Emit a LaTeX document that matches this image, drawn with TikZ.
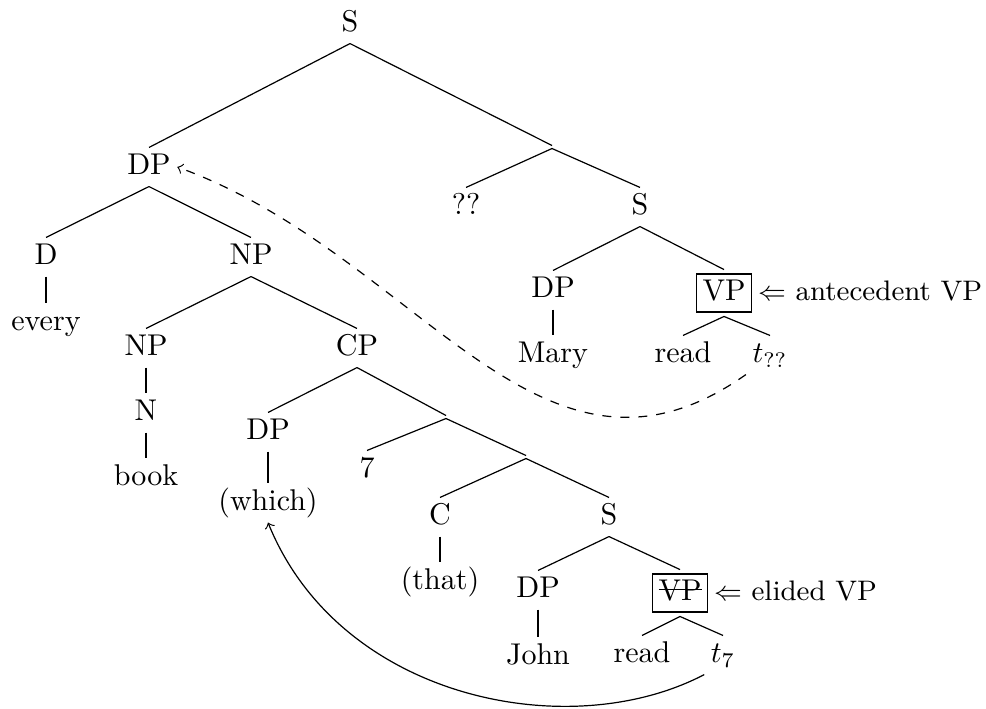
\documentclass[tikz,border=0pt]{standalone}
\usetikzlibrary{positioning}

\newlength{\strikelen}
\newcommand{\struck}[1]{\settowidth{\strikelen}{#1}\rlap{#1}\rule[0.85ex]{\strikelen}{0.4pt}}

\begin{document}
\begin{tikzpicture}[x=0.333pt, y=-0.333pt,
    tn/.style={text height=1.6ex, text depth=.4ex, inner sep=2pt},
    jn/.style={inner sep=0pt, outer sep=0pt},
    vpbox/.style={tn, draw, inner xsep=2pt, inner ysep=2pt, outer sep=1.5pt},
    side/.style={tn, inner xsep=0.5pt, font=\fontsize{9.4}{11}\selectfont}]
  \useasboundingbox (0,0) rectangle (986,708);

  % matrix clause
  \node[tn] (sTop) at (350,24) {S};
  \node[tn] (dpA) at (149,167) {DP};
  \node[jn] (jA) at (552,147) {};
  \node[tn] (qq) at (466,207) {??};
  \node[tn] (sB) at (640,207) {S};
  \node[tn] (dpM) at (553,290) {DP};
  \node[vpbox] (vpA) at (724,293) {VP};
  \node[side, right=0pt of vpA] (antA) {$\Leftarrow$ antecedent VP};
  \node[tn] (mary) at (553,355) {Mary};
  \node[tn] (readA) at (683,355) {read};
  \node[tn] (tq) at (770,355) {$t_{??}$};

  % subject DP
  \node[tn] (dD) at (46,257) {D};
  \node[tn] (npA) at (251,257) {NP};
  \node[tn] (every) at (46,323) {every};
  \node[tn] (npB) at (146,348) {NP};
  \node[tn] (cp) at (357,348) {CP};
  \node[tn] (nN) at (146,413) {N};
  \node[tn] (book) at (146,478) {book};

  % relative clause
  \node[tn] (dpW) at (268,432) {DP};
  \node[jn] (jB) at (446,417) {};
  \node[tn] (seven) at (367,470) {7};
  \node[jn] (jC) at (526,457) {};
  \node[tn] (wh) at (268,503) {(which)};
  \node[tn] (cC) at (440,517) {C};
  \node[tn] (sC) at (609,517) {S};
  \node[tn] (that) at (440,582) {(that)};
  \node[tn] (dpJ) at (538,590) {DP};
  \node[vpbox] (vpB) at (680,593) {\struck{VP}};
  \node[side, right=0pt of vpB] (eli) {$\Leftarrow$ elided VP};
  \node[tn] (john) at (538,657) {John};
  \node[tn] (readB) at (642,655) {read};
  \node[tn] (t7) at (723,655) {$t_7$};

  % branches
  \foreach \a/\b in {sTop/dpA, sTop/jA, jA/qq, jA/sB, sB/dpM, sB/vpA, dpM/mary,
      vpA/readA, vpA/tq, dpA/dD, dpA/npA, dD/every, npA/npB, npA/cp, npB/nN,
      nN/book, cp/dpW, cp/jB, jB/seven, jB/jC, dpW/wh, jC/cC, jC/sC, cC/that,
      sC/dpJ, sC/vpB, dpJ/john, vpB/readB, vpB/t7}
    \draw (\a.south) -- (\b.north);

  % movement
  \draw[->, dashed] (tq.south west) .. controls (540,520) and (420,255) .. (dpA.east);
  \draw[->] (t7.south west) .. controls (570,745) and (340,700) .. (wh.south);
\end{tikzpicture}
\end{document}
